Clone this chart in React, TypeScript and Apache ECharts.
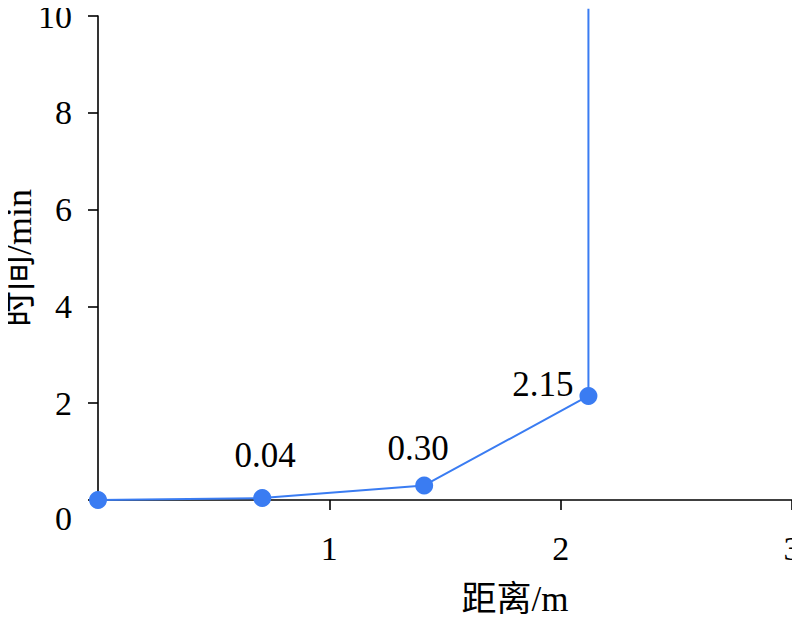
import React, { useEffect, useRef } from "react";
import * as echarts from "echarts";

const xValues = [0, 0.71, 1.41, 2.12, 2.12];
const yValues = [0, 0.04, 0.3, 2.15, 10.15];
const pointLabels = ["", "0.04", "0.30", "2.15", ""];
const xAxisName = "距离/m";
const yAxisName = "时间/min";

const FONT = "Liberation Serif";
const NAME_FONT = "'Liberation Serif', 'Noto Sans CJK SC'";
const BLUE = "#3a7cf2";

export default function App() {
  const ref = useRef<HTMLDivElement>(null);
  useEffect(() => {
    const chart = echarts.init(ref.current!, null, { renderer: "svg" });
    const labelCfg: any[] = [
      { show: false },
      { show: true, position: "top", distance: 16, offset: [3, 0] },
      { show: true, position: "top", distance: 10, offset: [-6, 0] },
      { show: true, position: "left", distance: 6, offset: [0, -11] },
      { show: false },
    ];
    const data = xValues.map((x, i) => ({
      value: [x, yValues[i]],
      symbol: i === xValues.length - 1 ? "none" : "circle",
      label: { ...labelCfg[i], formatter: () => pointLabels[i] },
    }));
    chart.setOption({
      animation: false,
      textStyle: { fontFamily: FONT },
      grid: { left: 98, right: 8, top: 16, bottom: 123, containLabel: false, outerBoundsMode: "none" },
      xAxis: {
        type: "value",
        min: 0,
        max: 3,
        interval: 1,
        name: xAxisName,
        nameLocation: "middle",
        nameGap: 82,
        nameMoveOverlap: false,
        nameTextStyle: { fontFamily: NAME_FONT, fontSize: 35, color: "#000", padding: [0, 0, 0, 140] },
        axisLine: { show: true, lineStyle: { color: "#000", width: 1.6 } },
        axisTick: { show: true, inside: false, length: 10, lineStyle: { color: "#000", width: 1.6 } },
        axisLabel: { showMinLabel: false, margin: 31, fontFamily: FONT, fontSize: 34, color: "#000" },
        splitLine: { show: false },
      },
      yAxis: {
        type: "value",
        min: 0,
        max: 10,
        interval: 2,
        name: yAxisName,
        nameLocation: "middle",
        nameGap: 79,
        nameMoveOverlap: false,
        nameTextStyle: {
          fontFamily: NAME_FONT,
          fontSize: 36,
          color: "#000",
          verticalAlign: "middle",
          align: "center",
        },
        axisLine: { show: true, lineStyle: { color: "#000", width: 1.6 } },
        axisTick: { show: true, inside: false, length: 10, lineStyle: { color: "#000", width: 1.6 } },
        axisLabel: {
          margin: 26,
          fontFamily: FONT,
          fontSize: 34,
          color: "#000",
          formatter: (v: number) => (v === 0 ? "{z|0}" : String(v)),
          rich: { z: { fontFamily: FONT, fontSize: 34, color: "#000", padding: [36, 0, 0, 0] } },
        },
        splitLine: { show: false },
      },
      series: [
        {
          type: "line",
          data,
          clip: false,
          symbolSize: 18,
          itemStyle: { color: BLUE },
          lineStyle: { color: BLUE, width: 2 },
          label: { fontFamily: FONT, fontSize: 35, color: "#000" },
        },
      ],
    });
    return () => chart.dispose();
  }, []);
  return <div ref={ref} style={{ width: 800, height: 623, margin: -8 }} />;
}
